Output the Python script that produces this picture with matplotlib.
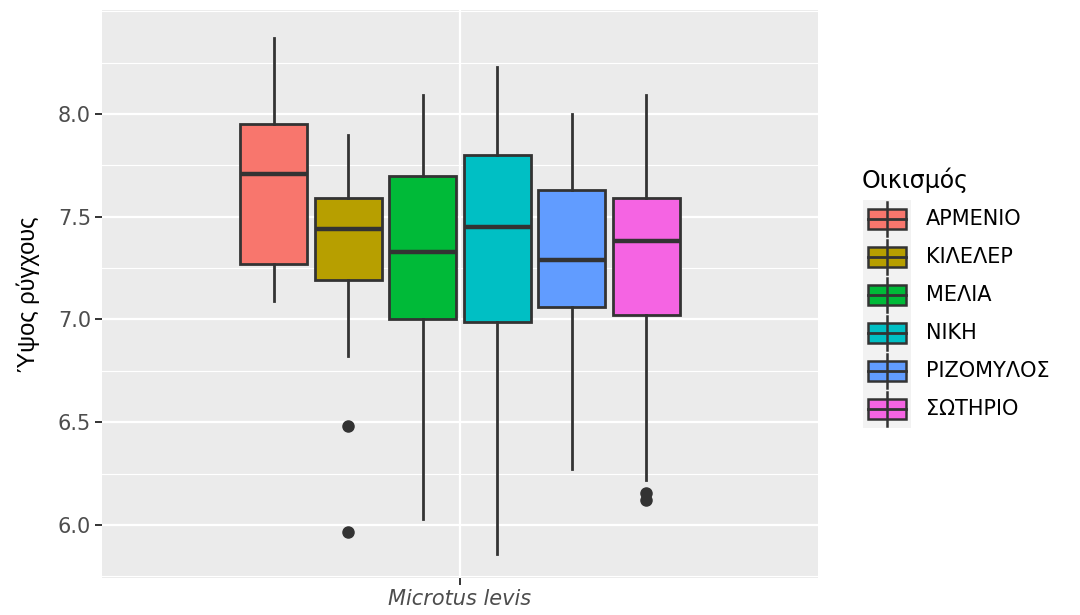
import matplotlib
matplotlib.use("Agg")
import matplotlib.pyplot as plt
from matplotlib.patches import Rectangle
from matplotlib.ticker import MultipleLocator

# ---- data ----
settlements = ["ΑΡΜΕΝΙΟ", "ΚΙΛΕΛΕΡ", "ΜΕΛΙΑ", "ΝΙΚΗ", "ΡΙΖΟΜΥΛΟΣ", "ΣΩΤΗΡΙΟ"]
colors = ["#F8766D", "#B79F00", "#00BA38", "#00BFC4", "#619CFF", "#F564E3"]
whisker_low = [7.09, 6.82, 6.03, 5.86, 6.27, 6.22]
q1 = [7.27, 7.19, 7.00, 6.99, 7.06, 7.02]
median = [7.71, 7.44, 7.33, 7.45, 7.29, 7.38]
q3 = [7.95, 7.59, 7.70, 7.80, 7.63, 7.59]
whisker_high = [8.37, 7.90, 8.09, 8.23, 8.00, 8.09]
outliers = [[], [6.48, 5.965], [], [], [], [6.155, 6.12]]
x_category = "Microtus levis"
y_ticks = [6.0, 6.5, 7.0, 7.5, 8.0]
y_label = "Ύψος ρύγχους"
legend_title = "Οικισμός"

W, H = 1080, 615
fig = plt.figure(figsize=(W / 100, H / 100), dpi=100)
fig.patch.set_facecolor("white")

def px(x0, y0, x1, y1):
    return [x0 / W, 1 - y1 / H, (x1 - x0) / W, (y1 - y0) / H]

SANS = ["DejaVu Sans"]
ax = fig.add_axes(px(102, 10, 818, 578))
ax.set_facecolor("#EBEBEB")
for s in ax.spines.values():
    s.set_visible(False)

n = len(settlements)
dodge = 0.75 / n
positions = [1 + (i - (n - 1) / 2) * dodge for i in range(n)]
stats = []
for i in range(n):
    stats.append(dict(med=median[i], q1=q1[i], q3=q3[i],
                      whislo=whisker_low[i], whishi=whisker_high[i],
                      fliers=outliers[i]))

bp = ax.bxp(stats, positions=positions, widths=dodge * 0.9, patch_artist=True,
            showcaps=False, manage_ticks=False,
            boxprops=dict(edgecolor="#333333", linewidth=2.0),
            whiskerprops=dict(color="#333333", linewidth=2.0),
            medianprops=dict(color="#333333", linewidth=3.2, solid_capstyle="butt"),
            flierprops=dict(marker="o", markerfacecolor="#333333",
                            markeredgecolor="#333333", markersize=8))
for patch, c in zip(bp["boxes"], colors):
    patch.set_facecolor(c)

ax.set_xlim(0.4, 1.6)
ax.set_ylim(5.742, 8.506)
ax.set_yticks(y_ticks)
ax.set_yticklabels([f"{v:.1f}" for v in y_ticks])
ax.yaxis.set_minor_locator(MultipleLocator(0.25))
ax.set_xticks([1])
ax.set_xticklabels([x_category], fontstyle="italic")
ax.grid(which="major", color="white", linewidth=1.6)
ax.grid(which="minor", axis="y", color="white", linewidth=0.8)
ax.set_axisbelow(True)
ax.tick_params(axis="both", which="major", color="#333333", length=5, width=1.4,
               labelcolor="#4D4D4D", labelsize=15, pad=3)
ax.tick_params(axis="y", which="minor", length=0)
for lab in ax.get_xticklabels() + ax.get_yticklabels():
    lab.set_family(SANS)
ax.set_ylabel(y_label, fontsize=17, color="black",
              family=["Liberation Sans Narrow", "Liberation Sans", "DejaVu Sans"])
ax.yaxis.label.set_va("center")
ax.yaxis.set_label_coords((28 - 102) / 716, 0.5)

# ---- legend (ggplot style) ----
lax = fig.add_axes(px(863, 200, 911, 428))
lax.set_xlim(0, 1)
lax.set_ylim(n, 0)
lax.axis("off")
lax.add_patch(Rectangle((0, 0), 1, n, facecolor="#F2F2F2", edgecolor="none"))
for i, (c, name) in enumerate(zip(colors, settlements)):
    yc = i + 0.5
    lax.plot([0.5, 0.5], [yc - 0.45, yc + 0.45], color="#333333", lw=1.8)
    lax.add_patch(Rectangle((0.1, yc - 0.26), 0.8, 0.52, facecolor=c,
                            edgecolor="#333333", lw=1.8))
    lax.plot([0.1, 0.9], [yc, yc], color="#333333", lw=2.0)
    fig.text(926 / W, 1 - (200 + (228 / n) * yc) / H, name, fontsize=15,
             va="center", ha="left", color="black", family=SANS)
fig.text(862 / W, 1 - 180 / H, legend_title, fontsize=17, va="center", ha="left",
         color="black", family=SANS)

fig.savefig("out.png", dpi=100)
